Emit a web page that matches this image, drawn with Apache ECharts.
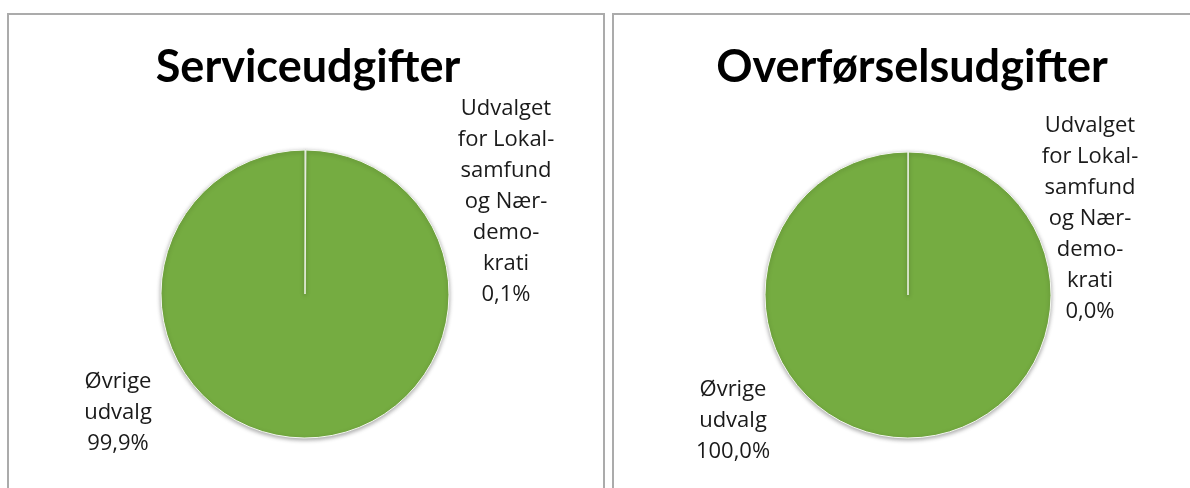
<!DOCTYPE html>
<html>
<head>
<meta charset="utf-8">
<script src="https://cdn.jsdelivr.net/npm/echarts@6/dist/echarts.min.js"></script>
<style>
html,body{margin:0;padding:0;background:#fff;}
#chart{width:1190px;height:488px;}
</style>
</head>
<body>
<div id="chart"></div>
<script>
// ---- data ----
const chartTitles = ["Serviceudgifter", "Overførselsudgifter"];
const categories = ["Udvalget\nfor Lokal-\nsamfund\nog Nær-\ndemo-\nkrati", "Øvrige\nudvalg"];
const serviceValues = [0.1, 99.9];       // percent
const overfoerselValues = [0.02, 99.98]; // percent (shown as 0,0% / 100,0%)

// ---- layout (styles/positions) ----
const panels = [
  { cx: 305, cy: 294, r: 144, titleX: 303, labelPos: [[506, 202], [118, 413]] },
  { cx: 908, cy: 295, r: 143, titleX: 907, labelPos: [[1090, 219], [733, 421]] }
];
const green = '#75AC41';
const fmt = v => v.toFixed(1).replace('.', ',') + '%';

function makeSeries(values, p) {
  return {
    type: 'pie',
    center: [p.cx, p.cy],
    radius: p.r,
    startAngle: 90,
    clockwise: true,
    silent: true,
    minAngle: 0,
    avoidLabelOverlap: false,
    itemStyle: {
      color: green,
      borderColor: '#f4f7f0',
      borderWidth: 1,
      shadowColor: 'rgba(0,0,0,0.35)',
      shadowBlur: 4,
      shadowOffsetY: 1.5
    },
    label: {
      show: true,
      position: 'outside',
      formatter: params => params.name + '\n' + fmt(params.value),
      fontFamily: 'Open Sans',
      fontSize: 22,
      lineHeight: 31,
      color: '#1a1a1a',
      align: 'center'
    },
    labelLine: { show: false },
    labelLayout: params => ({
      x: p.labelPos[params.dataIndex][0],
      y: p.labelPos[params.dataIndex][1],
      align: 'center',
      verticalAlign: 'middle',
      hideOverlap: false
    }),
    data: categories.map((c, i) => ({ name: c, value: values[i] }))
  };
}

const chart = echarts.init(document.getElementById('chart'), null, { renderer: 'canvas' });
chart.setOption({
  animation: false,
  backgroundColor: '#fff',
  graphic: [
    { type: 'rect', shape: { x: 8, y: 14, width: 596, height: 520 }, style: { fill: 'none', stroke: '#ababab', lineWidth: 2 }, z: -1 },
    { type: 'rect', shape: { x: 613, y: 14, width: 620, height: 520 }, style: { fill: 'none', stroke: '#ababab', lineWidth: 2 }, z: -1 }
  ],
  title: chartTitles.map((t, i) => ({
    text: t,
    left: panels[i].titleX,
    top: 40,
    textAlign: 'center',
    textStyle: { fontFamily: 'Lato', fontWeight: 'bold', fontSize: 45, color: '#000' }
  })),
  series: [
    makeSeries(serviceValues, panels[0]),
    makeSeries(overfoerselValues, panels[1])
  ]
});
</script>
</body>
</html>
